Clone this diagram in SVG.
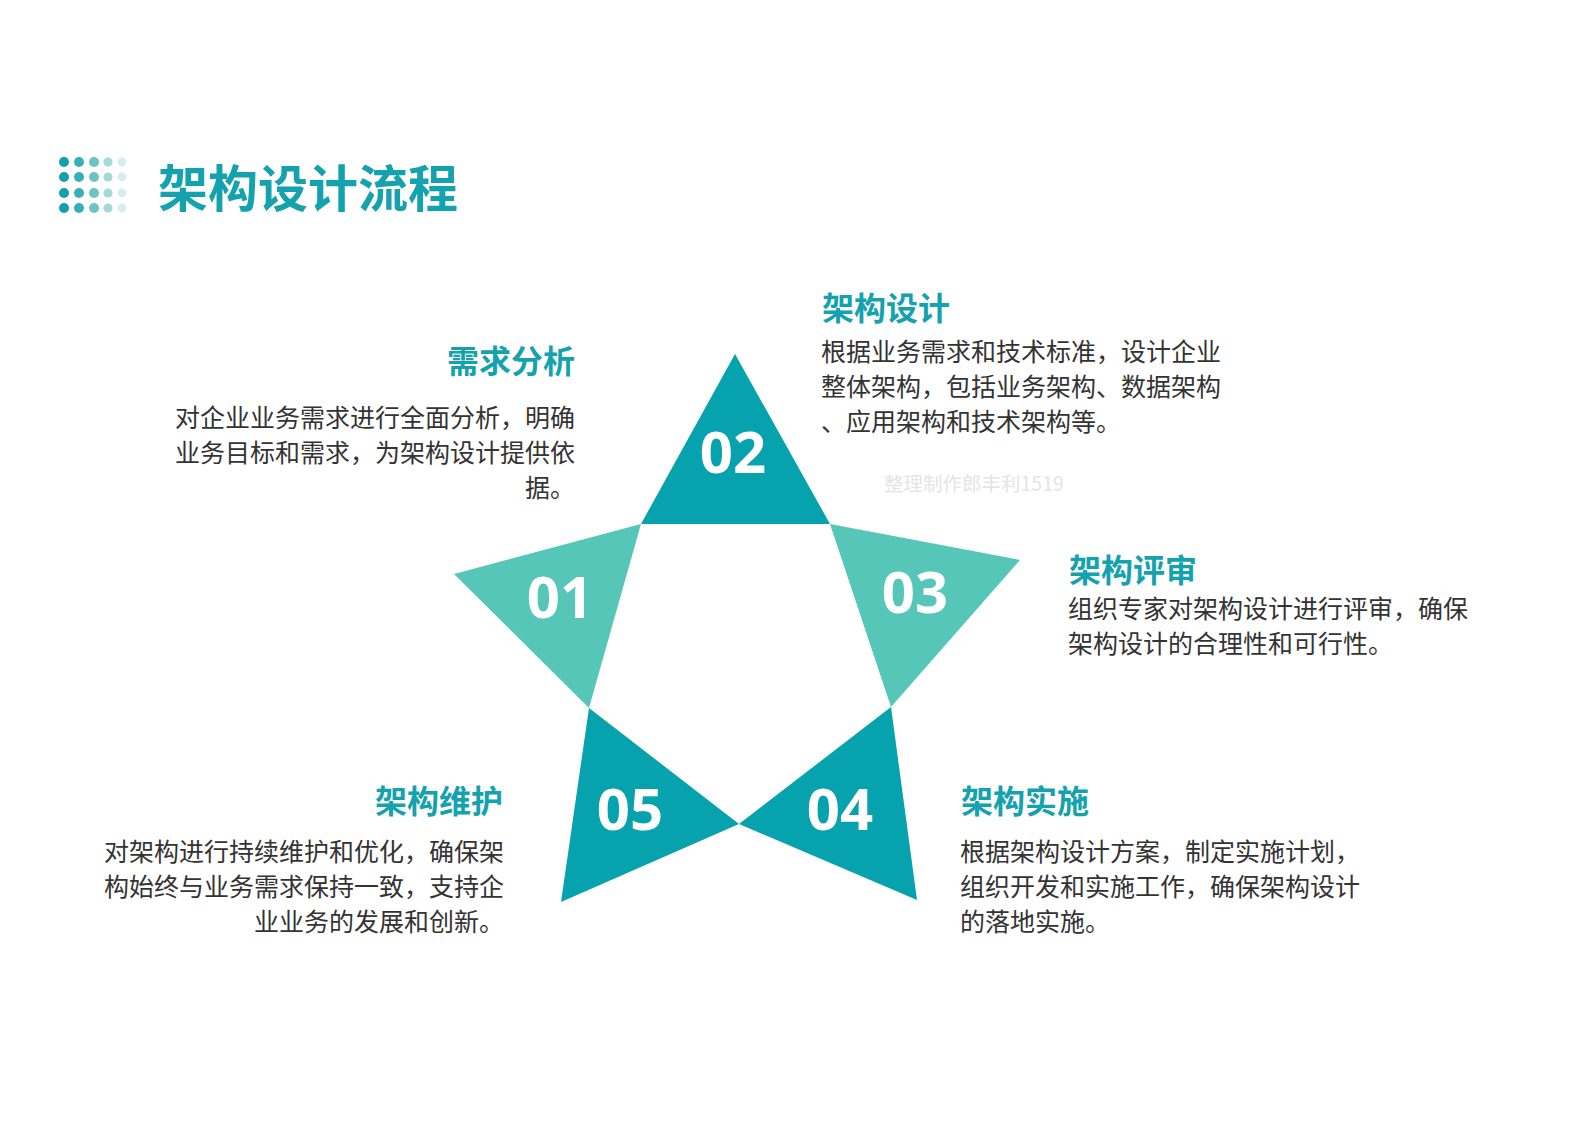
<svg xmlns="http://www.w3.org/2000/svg" width="1587" height="1122" viewBox="0 0 1587 1122">
<style>
.dk{fill:#06A2AE}
.lt{fill:#56C6B8}
.num{font-family:"Open Sans","DejaVu Sans",sans-serif;font-weight:700;font-size:58px;fill:#ffffff;text-anchor:middle}
.hd{font-family:"Noto Sans CJK SC",sans-serif;font-weight:700;font-size:32px;fill:#14A2AE}
.bd{font-family:"Noto Sans CJK SC",sans-serif;font-size:25px;fill:#333333}
.r{text-anchor:end}
.ttl{font-family:"Noto Sans CJK SC",sans-serif;font-weight:700;font-size:50px;fill:#14A2AE}
.wm{font-family:"Noto Sans CJK SC",sans-serif;font-size:19.5px;fill:#E4E4E4}
</style>
<rect width="1587" height="1122" fill="#ffffff"/>
<g id="title-icon">
<g fill="#12A0AD"><circle cx="64" cy="162" r="5"/><circle cx="64" cy="177" r="5"/><circle cx="64" cy="193" r="5"/><circle cx="64" cy="208" r="5"/></g>
<g fill="#38AEB5"><circle cx="79" cy="162" r="5"/><circle cx="79" cy="177" r="5"/><circle cx="79" cy="193" r="5"/><circle cx="79" cy="208" r="5"/></g>
<g fill="#6CC3C4"><circle cx="94" cy="162" r="5"/><circle cx="94" cy="177" r="5"/><circle cx="94" cy="193" r="5"/><circle cx="94" cy="208" r="5"/></g>
<g fill="#A4D9D9"><circle cx="108" cy="162" r="4.6"/><circle cx="108" cy="177" r="4.6"/><circle cx="108" cy="193" r="4.6"/><circle cx="108" cy="208" r="4.6"/></g>
<g fill="#D4EDEE"><circle cx="122" cy="162" r="4.4"/><circle cx="122" cy="177" r="4.4"/><circle cx="122" cy="193" r="4.4"/><circle cx="122" cy="208" r="4.4"/></g>
</g>
<g id="title"><text class="ttl" x="158" y="207">架构设计流程</text></g>
<g id="node-01">
<polygon class="lt" points="454,574 589,708 641,524"/>
<text class="num" x="560" y="618">01</text>
</g>
<g id="node-02">
<polygon class="dk" points="735,354 641,524 830,524"/>
<text class="num" x="733" y="473">02</text>
</g>
<g id="node-03">
<polygon class="lt" points="1020,560 830,524 891,707"/>
<text class="num" x="915" y="613">03</text>
</g>
<g id="node-04">
<polygon class="dk" points="917,900 891,707 739,824"/>
<text class="num" x="840" y="830">04</text>
</g>
<g id="node-05">
<polygon class="dk" points="561,902 739,824 589,708"/>
<text class="num" x="630" y="830">05</text>
</g>
<g id="text-01">
<text class="hd r" x="575" y="373">需求分析</text>
<text class="bd r" x="575" y="427">对企业业务需求进行全面分析，明确</text>
<text class="bd r" x="575" y="462">业务目标和需求，为架构设计提供依</text>
<text class="bd r" x="575" y="497">据。</text>
</g>
<g id="text-02">
<text class="hd" x="822" y="320">架构设计</text>
<text class="bd" x="821" y="361">根据业务需求和技术标准，设计企业</text>
<text class="bd" x="821" y="396">整体架构，包括业务架构、数据架构</text>
<text class="bd" x="821" y="431">、应用架构和技术架构等。</text>
</g>
<g id="text-03">
<text class="hd" x="1069" y="582">架构评审</text>
<text class="bd" x="1068" y="618">组织专家对架构设计进行评审，确保</text>
<text class="bd" x="1068" y="653">架构设计的合理性和可行性。</text>
</g>
<g id="text-04">
<text class="hd" x="961" y="813">架构实施</text>
<text class="bd" x="960" y="861">根据架构设计方案，制定实施计划，</text>
<text class="bd" x="960" y="896">组织开发和实施工作，确保架构设计</text>
<text class="bd" x="960" y="931">的落地实施。</text>
</g>
<g id="text-05">
<text class="hd r" x="503" y="813">架构维护</text>
<text class="bd r" x="504" y="861">对架构进行持续维护和优化，确保架</text>
<text class="bd r" x="504" y="896">构始终与业务需求保持一致，支持企</text>
<text class="bd r" x="504" y="931">业业务的发展和创新。</text>
</g>
<g id="watermark"><text class="wm" x="884" y="491">整理制作郎丰利1519</text></g>
</svg>
